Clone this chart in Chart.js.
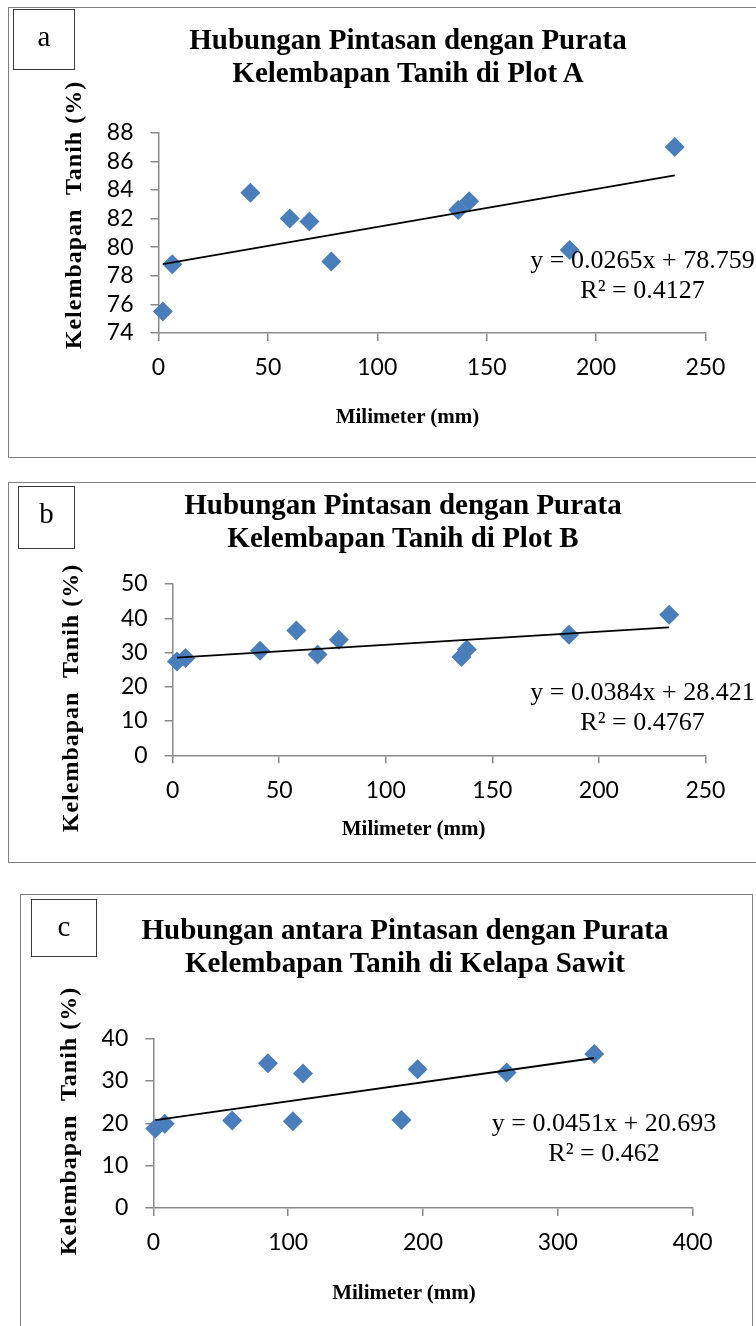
<!DOCTYPE html>
<html>
<head>
<meta charset="utf-8">
<script src="https://cdn.jsdelivr.net/npm/chart.js@4.4.1/dist/chart.umd.min.js"></script>
<style>
  html, body { margin: 0; padding: 0; width: 756px; height: 1326px; overflow: hidden; background: #fff; }
  .frame { position: absolute; border: 1px solid #7f7f7f; box-sizing: border-box; }
  canvas { position: absolute; left: 0; }
  .tx { position: absolute; font-family: "Liberation Serif", "Times New Roman", serif; color: #000; white-space: pre; }
  .title { font-weight: bold; font-size: 29px; line-height: 33px; text-align: center; width: 600px; }
  .tag { border: 1px solid #3a3a3a; box-sizing: border-box; font-size: 29px; line-height: 29px; text-align: center; padding-top: 12.4px; }
  .eq { font-size: 26px; line-height: 30px; text-align: center; width: 320px; }
  .xt { font-weight: bold; font-size: 21px; line-height: 21px; text-align: center; width: 300px; }
  .yt { font-weight: bold; font-size: 24px; line-height: 24px; letter-spacing: 1px; transform: translate(-50%, -50%) rotate(-90deg); }
</style>
</head>
<body>

<!-- panel frames -->
<div class="frame" style="left:8px; top:7px; width:800px; height:451px;"></div>
<div class="frame" style="left:8px; top:482px; width:800px; height:381px;"></div>
<div class="frame" style="left:20px; top:894px; width:733px; height:500px;"></div>

<canvas id="chartA" width="756" height="460" style="top:0px;"></canvas>
<canvas id="chartB" width="756" height="400" style="top:470px;"></canvas>
<canvas id="chartC" width="756" height="436" style="top:890px;"></canvas>

<!-- panel a -->
<div class="tx tag" style="left:13px; top:9px; width:62px; height:61px;">a</div>
<div class="tx title" style="left:108px; top:23px;">Hubungan Pintasan dengan Purata
Kelembapan Tanih di Plot A</div>
<div class="tx yt" style="left:73.4px; top:215px;">Kelembapan  Tanih (%)</div>
<div class="tx xt" style="left:257.5px; top:406.4px;">Milimeter (mm)</div>
<div class="tx eq" style="left:482.5px; top:245.2px;">y = 0.0265x + 78.759
R² = 0.4127</div>

<!-- panel b -->
<div class="tx tag" style="left:18px; top:486px; width:57px; height:63px;">b</div>
<div class="tx title" style="left:103px; top:487.7px;">Hubungan Pintasan dengan Purata
Kelembapan Tanih di Plot B</div>
<div class="tx yt" style="left:70.4px; top:698px;">Kelembapan  Tanih (%)</div>
<div class="tx xt" style="left:263.6px; top:818.4px;">Milimeter (mm)</div>
<div class="tx eq" style="left:482.5px; top:677px;">y = 0.0384x + 28.421
R² = 0.4767</div>

<!-- panel c -->
<div class="tx tag" style="left:31px; top:899px; width:66px; height:58px;">c</div>
<div class="tx title" style="left:105px; top:913px;">Hubungan antara Pintasan dengan Purata
Kelembapan Tanih di Kelapa Sawit</div>
<div class="tx yt" style="left:68.4px; top:1121px;">Kelembapan  Tanih (%)</div>
<div class="tx xt" style="left:254px; top:1281.7px;">Milimeter (mm)</div>
<div class="tx eq" style="left:444px; top:1108px;">y = 0.0451x + 20.693
R² = 0.462</div>

<script>
// Plot A
const plotAX = [2, 6.3, 42, 60, 69, 79, 137, 142, 188, 236];
const plotAY = [75.5, 78.8, 83.8, 82.0, 81.8, 79.0, 82.6, 83.2, 79.8, 87.0];
const plotATrend = [0.0265, 78.759];          // slope, intercept
const plotAXAxis = [0, 250, 50];              // min, max, step
const plotAYAxis = [74, 88, 2];

// Plot B
const plotBX = [2, 6, 41, 58, 68, 78, 135.5, 138, 186, 233];
const plotBY = [27.4, 28.4, 30.5, 36.4, 29.4, 33.7, 28.7, 30.9, 35.2, 41.0];
const plotBTrend = [0.0384, 28.421];
const plotBXAxis = [0, 250, 50];
const plotBYAxis = [0, 50, 10];

// Kelapa sawit
const sawitX = [1.5, 8.5, 58.5, 85, 103.5, 111, 184, 196, 262, 327];
const sawitY = [18.8, 19.9, 20.7, 34.2, 20.5, 31.8, 20.8, 32.8, 32.0, 36.4];
const sawitTrend = [0.0451, 20.693];
const sawitXAxis = [0, 400, 100];
const sawitYAxis = [0, 40, 10];

const AXIS_GRAY = '#898989';
const POINT_BLUE = '#4A7EBB';
const tickFont = { family: 'Lato', size: 23 };

function axisOpts(range, pad, fitKey, fitVal) {
  return {
    type: 'linear',
    min: range[0], max: range[1],
    ticks: { stepSize: range[2], autoSkip: false, color: '#000', font: tickFont, padding: pad },
    grid: { drawOnChartArea: false, drawTicks: true, tickLength: 8, color: AXIS_GRAY, lineWidth: 1.5 },
    border: { display: true, color: AXIS_GRAY, width: 1.5 },
    afterFit: (s) => { s[fitKey] = fitVal; },
  };
}

function scatterChart(id, xs, ys, trend, xAxis, yAxis, padding) {
  const pts = xs.map((x, i) => ({ x, y: ys[i] }));
  const x0 = Math.min(...xs), x1 = Math.max(...xs);
  const line = [x0, x1].map((x) => ({ x, y: trend[0] * x + trend[1] }));
  return new Chart(document.getElementById(id), {
    type: 'scatter',
    data: {
      datasets: [
        { data: line, showLine: true, borderColor: '#000', borderWidth: 1.8, pointRadius: 0, order: 0, clip: false },
        { data: pts, pointStyle: 'rectRot', pointRadius: 10, backgroundColor: POINT_BLUE, borderWidth: 0, order: 1, clip: false },
      ],
    },
    options: {
      responsive: false, animation: false, devicePixelRatio: 1,
      layout: { padding },
      plugins: { legend: { display: false }, tooltip: { enabled: false } },
      scales: {
        x: axisOpts(xAxis, 13, 'height', 60),
        y: axisOpts(yAxis, 17, 'width', 80),
      },
    },
  });
}

scatterChart('chartA', plotAX, plotAY, plotATrend, plotAXAxis, plotAYAxis,
  { left: 78.5, top: 132.7, right: 50.6, bottom: 67 });
scatterChart('chartB', plotBX, plotBY, plotBTrend, plotBXAxis, plotBYAxis,
  { left: 92.7, top: 114, right: 50.6, bottom: 54.7 });
scatterChart('chartC', sawitX, sawitY, sawitTrend, sawitXAxis, sawitYAxis,
  { left: 73.3, top: 148.7, right: 63.3, bottom: 58 });
</script>
</body>
</html>
